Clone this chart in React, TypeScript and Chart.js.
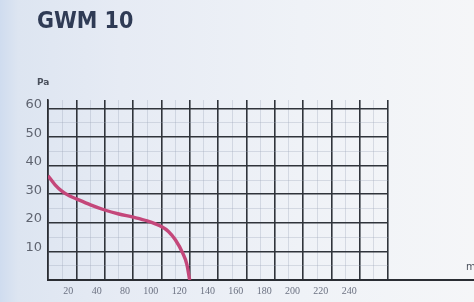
import React, { useEffect, useRef } from "react";
import { Chart, registerables } from "chart.js";

Chart.register(...registerables);

// Flow (x, in scale units: one major grid cell = 20) and pressure (Pa)
const FLOW = [0, 5, 10, 15, 20, 30, 40, 50, 60, 70, 80, 85, 90, 95, 98, 100];
const PRESSURE = [36.5, 33.3, 31, 29.5, 28.4, 26.3, 24.5, 23.1, 22, 20.7, 18.7, 17, 14, 9.5, 5.5, 0];

// Tick labels as printed under grid lines 1..11
const X_TICK_LABELS = ["20", "40", "80", "100", "120", "140", "160", "180", "200", "220", "240"];
const Y_TICK_LABELS = ["10", "20", "30", "40", "50", "60"];

const TITLE = "GWM 10";
const Y_UNIT = "Pa";
const X_UNIT = "m³/h";

const axisExtend = {
  id: "axisExtend",
  afterDraw(chart: any) {
    const { ctx, chartArea, width } = chart;
    ctx.save();
    ctx.strokeStyle = "#2a2d33";
    ctx.lineWidth = 2;
    ctx.beginPath();
    ctx.moveTo(chartArea.right, chartArea.bottom);
    ctx.lineTo(width, chartArea.bottom);
    ctx.stroke();
    ctx.restore();
  },
};

export default function App() {
  const ref = useRef<HTMLCanvasElement>(null);
  useEffect(() => {
    const canvas = ref.current!;
    const chart = new Chart(canvas, {
      type: "line",
      data: {
        datasets: [
          {
            data: FLOW.map((f, i) => ({ x: f, y: PRESSURE[i] })),
            borderColor: "#c4477a",
            borderWidth: 3.4,
            pointRadius: 0,
            tension: 0.4,
            cubicInterpolationMode: "monotone",
            fill: false,
          },
        ],
      },
      plugins: [axisExtend],
      options: {
        responsive: false,
        animation: false,
        layout: { padding: { left: 0, right: 86, top: 100, bottom: 0 } },
        plugins: { legend: { display: false }, tooltip: { enabled: false } },
        scales: {
          x: {
            type: "linear",
            min: 0,
            max: 240,
            afterBuildTicks: (scale: any) => {
              const t = [];
              for (let v = 0; v <= 240; v += 10) t.push({ value: v });
              scale.ticks = t;
            },
            afterFit: (scale: any) => {
              scale.height = 22;
            },
            grid: {
              drawTicks: false,
              color: (ctx: any) =>
                ctx.tick && ctx.tick.value % 20 === 0 ? "#30343b" : "rgba(150,160,180,0.3)",
              lineWidth: (ctx: any) => (ctx.tick && ctx.tick.value % 20 === 0 ? 1.6 : 1),
            },
            border: { color: "#2a2d33", width: 2 },
            ticks: {
              autoSkip: false,
              maxRotation: 0,
              align: "end",
              labelOffset: -3,
              padding: 5,
              color: "#6c7282",
              font: { family: "Liberation Sans Narrow", size: 10 },
              callback: (v: any) => {
                const n = Number(v);
                if (n % 20 !== 0) return "";
                const i = n / 20 - 1;
                return i >= 0 && i < X_TICK_LABELS.length ? X_TICK_LABELS[i] : "";
              },
            },
          },
          y: {
            min: 0,
            max: 63,
            afterBuildTicks: (scale: any) => {
              const t = [];
              for (let v = 0; v <= 60; v += 5) t.push({ value: v });
              scale.ticks = t;
            },
            afterFit: (scale: any) => {
              scale.width = 48;
            },
            grid: {
              drawTicks: false,
              color: (ctx: any) =>
                ctx.tick && ctx.tick.value % 10 === 0 ? "#30343b" : "rgba(150,160,180,0.3)",
              lineWidth: (ctx: any) => (ctx.tick && ctx.tick.value % 10 === 0 ? 1.6 : 1),
            },
            border: { color: "#2a2d33", width: 1.6 },
            ticks: {
              autoSkip: false,
              padding: 6,
              labelOffset: -4,
              color: "#5f6470",
              font: { family: "DejaVu Sans", size: 13 },
              callback: (v: any) => {
                const n = Number(v);
                if (n % 10 !== 0 || n === 0) return "";
                const i = n / 10 - 1;
                return Y_TICK_LABELS[i] ?? "";
              },
            },
          },
        },
      },
    } as any);
    return () => chart.destroy();
  }, []);

  return (
    <div
      style={{
        position: "absolute",
        left: 0,
        top: 0,
        width: 474,
        height: 302,
        overflow: "hidden",
        background:
          "linear-gradient(90deg, #cfdcef 0px, #dde5f1 18px, #e6ebf4 120px, #eff2f7 300px, #f5f6f8 474px)",
      }}
    >
      <canvas ref={ref} width={474} height={302} style={{ position: "absolute", left: 0, top: 0 }} />
      <div
        style={{
          position: "absolute",
          left: 37,
          top: 7,
          fontFamily: "DejaVu Sans Condensed",
          fontWeight: "bold",
          fontSize: 23,
          color: "#2f3b55",
          whiteSpace: "nowrap",
        }}
      >
        {TITLE}
      </div>
      <div
        style={{
          position: "absolute",
          left: 37,
          top: 77,
          fontFamily: "DejaVu Sans",
          fontWeight: "bold",
          fontSize: 9,
          color: "#4a505c",
        }}
      >
        {Y_UNIT}
      </div>
      <div
        style={{
          position: "absolute",
          left: 466,
          top: 261,
          fontFamily: "DejaVu Sans",
          fontSize: 10,
          color: "#4a505c",
          whiteSpace: "nowrap",
        }}
      >
        {X_UNIT}
      </div>
    </div>
  );
}
